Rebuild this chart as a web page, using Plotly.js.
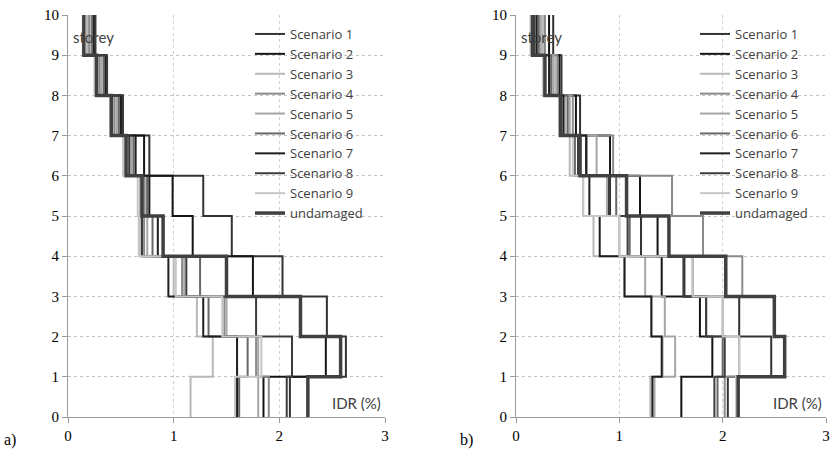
<!DOCTYPE html>
<html>
<head>
<meta charset="utf-8">
<script src="https://cdn.plot.ly/plotly-3.0.1.min.js"></script>
<style>html,body{margin:0;padding:0;background:#fff;}#chart{width:832px;height:455px;}</style>
</head>
<body>
<div id="chart"></div>
<script>
// storey bands 1..10 (IDR % per storey)
const storeys = [0,1,2,3,4,5,6,7,8,9,10];
const seriesNames = ["Scenario 1","Scenario 2","Scenario 3","Scenario 4","Scenario 5","Scenario 6","Scenario 7","Scenario 8","Scenario 9","undamaged"];

// panel a)
const a_s1 = [2.10,2.63,2.45,2.03,1.55,1.28,0.77,0.52,0.36,0.25];
const a_s2 = [1.85,2.44,2.20,1.75,1.18,0.99,0.72,0.50,0.35,0.24];
const a_s3 = [1.16,1.37,1.22,1.00,0.68,0.68,0.54,0.42,0.28,0.18];
const a_s4 = [1.90,1.78,1.48,1.08,0.72,0.72,0.58,0.44,0.30,0.20];
const a_s5 = [1.80,1.80,1.50,1.10,0.75,0.74,0.60,0.46,0.32,0.22];
const a_s6 = [1.62,1.70,1.33,1.25,0.80,0.75,0.62,0.48,0.34,0.23];
const a_s7 = [1.60,1.60,1.28,0.95,0.85,0.77,0.64,0.50,0.36,0.25];
const a_s8 = [2.07,2.12,1.78,1.12,0.70,0.70,0.58,0.52,0.37,0.26];
const a_s9 = [1.58,1.83,1.46,1.02,0.67,0.66,0.52,0.40,0.25,0.14];
const a_und = [2.27,2.58,2.20,1.50,0.90,0.70,0.55,0.41,0.27,0.15];

// panel b)
const b_s1 = [2.05,2.47,2.16,1.63,1.21,0.91,0.68,0.62,0.44,0.36];
const b_s2 = [1.60,1.90,1.78,1.41,1.37,1.20,0.91,0.58,0.42,0.32];
const b_s3 = [1.30,1.42,1.31,1.05,0.75,0.65,0.52,0.48,0.38,0.26];
const b_s4 = [2.02,2.16,2.00,2.19,1.81,1.51,0.94,0.55,0.40,0.28];
const b_s5 = [1.34,1.54,1.44,1.25,1.00,0.88,0.78,0.52,0.36,0.24];
const b_s6 = [1.95,2.00,1.84,1.71,1.10,0.97,0.57,0.50,0.34,0.22];
const b_s7 = [1.32,1.41,1.31,1.05,0.81,0.71,0.68,0.46,0.32,0.20];
const b_s8 = [1.92,2.02,1.84,1.62,1.08,0.90,0.60,0.44,0.28,0.18];
const b_s9 = [2.13,2.16,2.00,1.71,1.00,0.65,0.55,0.42,0.26,0.14];
const b_und = [2.15,2.60,2.50,2.03,1.48,1.07,0.62,0.43,0.28,0.16];

const xTicks = [0,1,2,3];
const yTicks = [0,1,2,3,4,5,6,7,8,9,10];

const colors = ["#333333","#151515","#b8b8b8","#8a8a8a","#a6a6a6","#686868","#1e1e1e","#3c3c3c","#c6c6c6","#404040"];
const widths = [2,2,2,2,2,2,2,2,2,3.5];

const panelA = [a_s1,a_s2,a_s3,a_s4,a_s5,a_s6,a_s7,a_s8,a_s9,a_und];
const panelB = [b_s1,b_s2,b_s3,b_s4,b_s5,b_s6,b_s7,b_s8,b_s9,b_und];

function mk(vals, i, xa, ya, leg){
  return {
    x: vals.concat([vals[vals.length-1]]),
    y: storeys,
    xaxis: xa, yaxis: ya,
    mode: 'lines',
    line: {shape:'vh', color: colors[i], width: widths[i]},
    name: seriesNames[i],
    legend: leg,
    hoverinfo: 'skip'
  };
}
const traces = [];
panelA.forEach((v,i)=>traces.push(mk(v,i,'x','y','legend')));
panelB.forEach((v,i)=>traces.push(mk(v,i,'x2','y2','legend2')));

const W=832,H=455;
const yDom=[1-417/H, 1-15/H];
const tickFont={family:'Liberation Serif, Times New Roman, serif', size:15, color:'#000'};
function xax(dom){return {domain:dom, range:[0,3], tickvals:xTicks, ticktext:xTicks.map(String), showline:true, linecolor:'#9a9a9a', linewidth:1, ticks:'outside', ticklen:5, tickcolor:'#9a9a9a', showgrid:true, gridcolor:'#cfcfcf', griddash:'dot', gridwidth:1, zeroline:false, tickfont:tickFont, fixedrange:true};}
function yax(anchor){return {domain:yDom, anchor:anchor, range:[0,10], tickvals:yTicks, ticktext:yTicks.map(String), showline:true, linecolor:'#9a9a9a', linewidth:1, ticks:'outside', ticklen:5, tickcolor:'#9a9a9a', showgrid:true, gridcolor:'#c4c4c4', griddash:'dot', gridwidth:1, zeroline:false, tickfont:tickFont, fixedrange:true};}
const legFont={family:'Open Sans, Lato, sans-serif', size:13, color:'#404040'};
function leg(xpx){return {x:xpx/W, y:1-19/H, xanchor:'left', yanchor:'top', bgcolor:'rgba(0,0,0,0)', borderwidth:0, font:legFont, tracegroupgap:0, itemwidth:30};}

const annFont={family:'Lato, Carlito, sans-serif', size:15, color:'#404040'};
const layout = {
  width:W, height:H,
  margin:{l:0,r:0,t:0,b:0},
  paper_bgcolor:'#fff', plot_bgcolor:'rgba(0,0,0,0)',
  showlegend:true,
  xaxis: xax([68/W, 385/W]),
  yaxis: yax('x'),
  xaxis2: Object.assign(xax([516/W, 826/W]), {anchor:'y2'}),
  yaxis2: yax('x2'),
  legend: leg(250),
  legend2: leg(695),
  annotations:[
    {xref:'x', yref:'y', x:0.03, y:9.45, text:'storey', showarrow:false, xanchor:'left', yanchor:'middle', font:annFont},
    {xref:'x', yref:'y', x:2.98, y:0.35, text:'IDR (%)', showarrow:false, xanchor:'right', yanchor:'middle', font:annFont},
    {xref:'x2', yref:'y2', x:0.03, y:9.45, text:'storey', showarrow:false, xanchor:'left', yanchor:'middle', font:annFont},
    {xref:'x2', yref:'y2', x:2.98, y:0.35, text:'IDR (%)', showarrow:false, xanchor:'right', yanchor:'middle', font:annFont},
    {xref:'paper', yref:'paper', x:2/W, y:1-440/H, text:'a)', showarrow:false, xanchor:'left', yanchor:'middle', font:{family:'Liberation Serif, serif', size:16, color:'#000'}},
    {xref:'paper', yref:'paper', x:458/W, y:1-440/H, text:'b)', showarrow:false, xanchor:'left', yanchor:'middle', font:{family:'Liberation Serif, serif', size:16, color:'#000'}}
  ]
};
Plotly.newPlot('chart', traces, layout, {displayModeBar:false, staticPlot:true});
</script>
</body>
</html>
